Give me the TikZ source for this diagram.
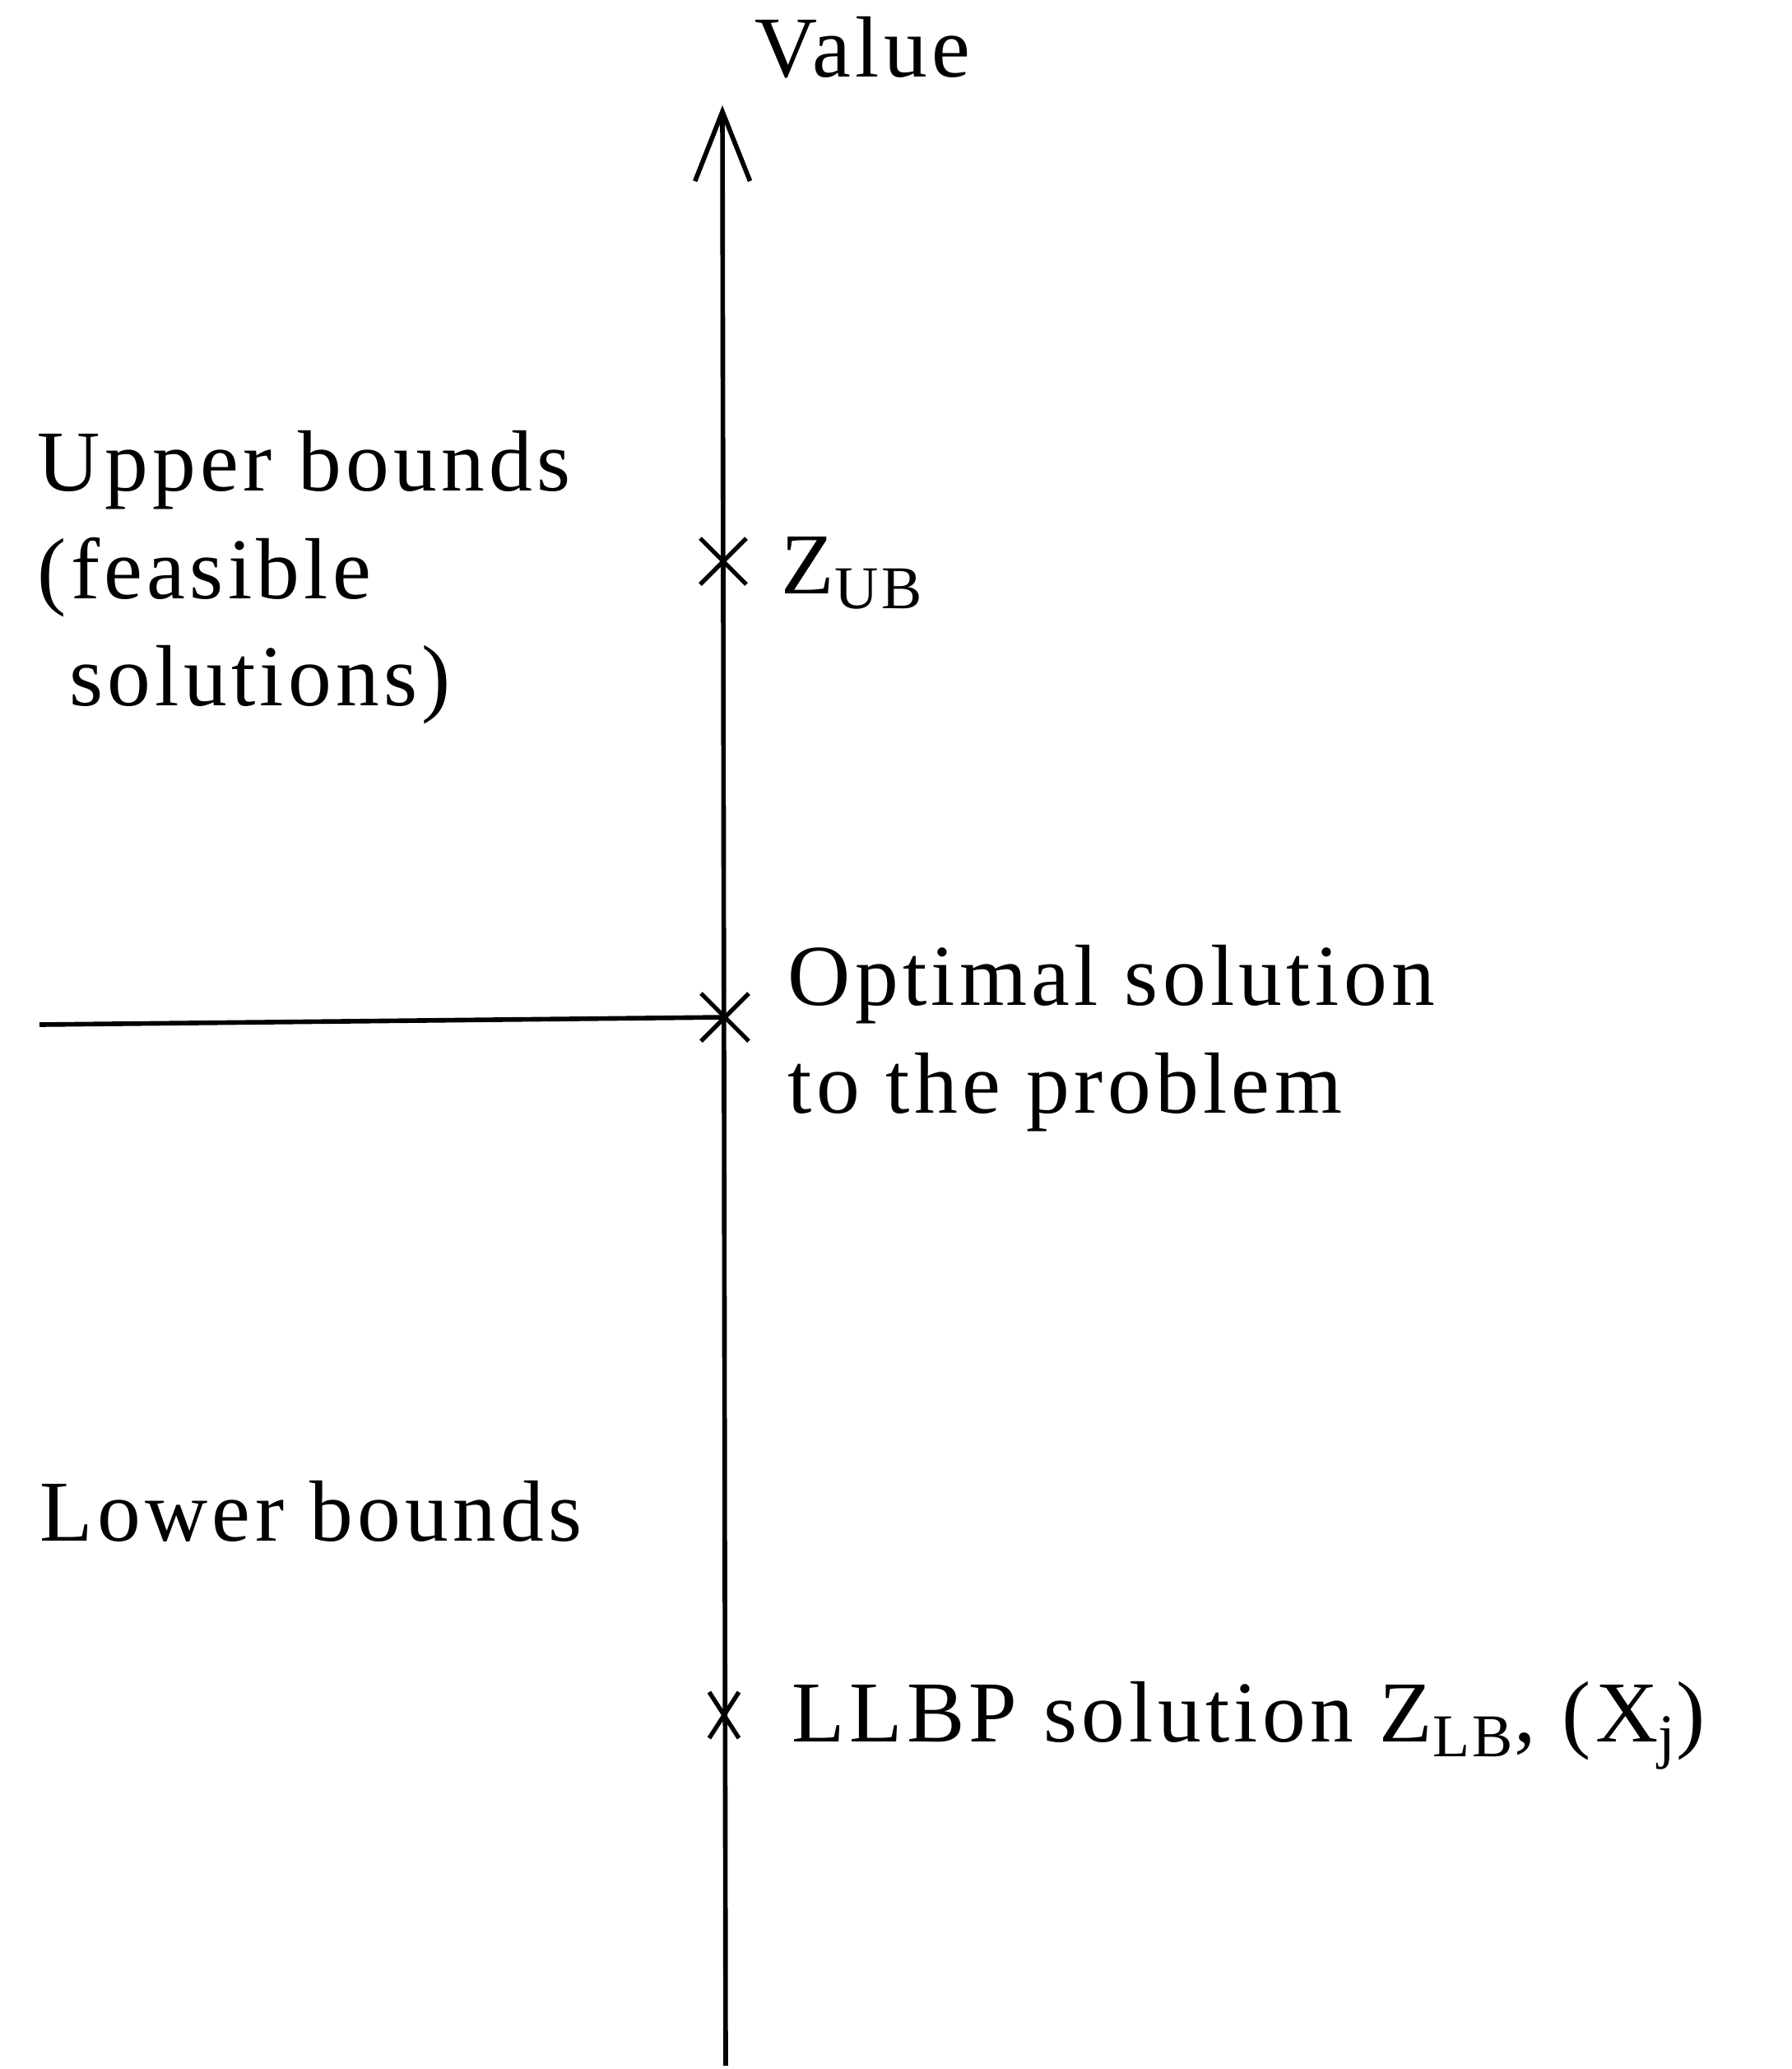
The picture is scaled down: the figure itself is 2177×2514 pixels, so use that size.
\documentclass[tikz,border=0pt]{standalone}
\usepackage{fontspec}
\setmainfont[LetterSpace=5]{Liberation Serif}
\usepackage{tikz}
\usetikzlibrary{arrows.meta,positioning}

\begin{document}
\begin{tikzpicture}[x=0.01cm,y=-0.01cm,
  axisline/.style={line width=1.6pt},
  crossline/.style={line width=1.5pt},
  lbl/.style={inner sep=0pt,align=left,font=\fontsize{30pt}{37pt}\selectfont}]
\useasboundingbox (0,0) rectangle (2177,2514);
\coordinate (top) at (878,128);
\coordinate (bot) at (882,2510);
\coordinate (ZUB) at (879,682);
\coordinate (OPT) at (881,1236);
\coordinate (ZLB) at (880,2084);
\coordinate (L) at (48,1245);
\draw[axisline,-{Straight Barb[length=24pt,width=19pt,line width=1.6pt]}] (bot) -- (top);
\draw[axisline] (L) -- (OPT);
\draw[crossline] (ZUB)+(-28,-28) -- +(28,28) (ZUB)+(-28,28) -- +(28,-28);
\draw[crossline] (OPT)+(-29,-29) -- +(29,29) (OPT)+(-29,29) -- +(29,-29);
\draw[crossline] (ZLB)+(-18,-28) -- +(18,28) (ZLB)+(-18,28) -- +(18,-28);
\node[lbl,anchor=base west] (value) at (917,93) {Value};
\node[lbl,anchor=base west] (zubtxt) at (949,721) {Z\textsubscript{UB}};
\node[lbl,anchor=north west] (upper) at (45,523) {Upper bounds\\(feasible\\\hspace{11pt}solutions)};
\node[lbl,anchor=north west] (opttxt) at (957,1148) {Optimal solution\\to the problem};
\node[lbl,anchor=base west] (lower) at (48,1872) {Lower bounds};
\node[lbl,anchor=base west] (zlbtxt) at (962,2116) {LLBP solution Z\textsubscript{LB}, (X\textsubscript{j})};
\end{tikzpicture}
\end{document}
